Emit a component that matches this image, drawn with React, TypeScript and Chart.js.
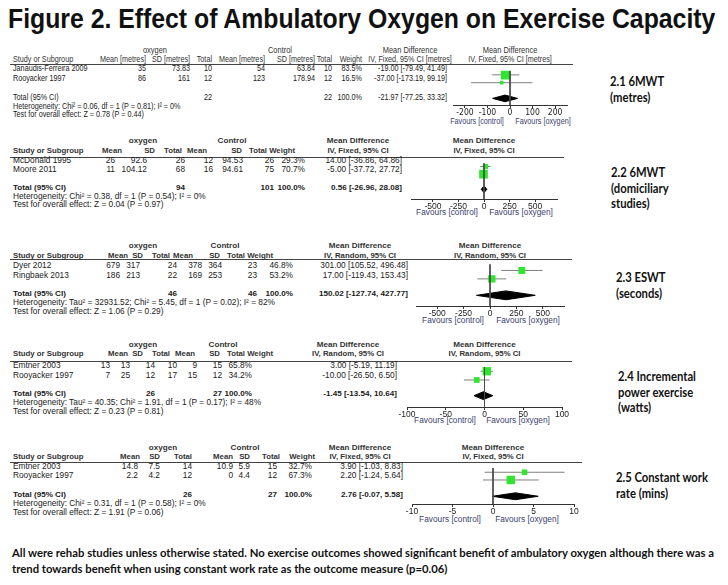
import React, { useEffect, useRef } from "react";
import { Chart, registerables } from "chart.js";
Chart.register(...registerables);

// ---------------- data ----------------
const titleText = "Figure 2. Effect of Ambulatory Oxygen on Exercise Capacity";
const outcomeLabels = [
  ["2.1 6MWT", "(metres)"],
  ["2.2 6MWT", "(domiciliary", "studies)"],
  ["2.3 ESWT", "(seconds)"],
  ["2.4 Incremental", "power exercise", "(watts)"],
  ["2.5 Constant work", "rate (mins)"],
];
const studies = [
  ["Janaudis-Ferreira 2009", "Rooyacker 1997"],
  ["McDonald 1995", "Moore 2011"],
  ["Dyer 2012", "Ringbaek 2013"],
  ["Emtner 2003", "Rooyacker 1997"],
  ["Emtner 2003", "Rooyacker 1997"],
];
const oxygenMean = [["35", "86"], ["26", "11"], ["679", "186"], ["13", "7"], ["14.8", "2.2"]];
const oxygenSD = [["73.83", "161"], ["92.6", "104.12"], ["317", "213"], ["13", "25"], ["7.5", "4.2"]];
const oxygenTotal = [["10", "12"], ["26", "68"], ["24", "22"], ["14", "12"], ["14", "12"]];
const controlMean = [["54", "123"], ["12", "16"], ["378", "169"], ["10", "17"], ["10.9", "0"]];
const controlSD = [["63.84", "178.94"], ["94.53", "94.61"], ["364", "253"], ["9", "15"], ["5.9", "4.4"]];
const controlTotal = [["10", "12"], ["26", "75"], ["23", "23"], ["15", "12"], ["15", "12"]];
const weights = [[83.5, 16.5], [29.3, 70.7], [46.8, 53.2], [65.8, 34.2], [32.7, 67.3]];
const meanDiff = [[-19, -37], [14, -5], [301, 17], [3, -10], [3.9, 2.2]];
const ciLower = [[-79.49, -173.19], [-36.86, -37.72], [105.52, -119.43], [-5.19, -26.5], [-1.03, -1.24]];
const ciUpper = [[41.49, 99.19], [64.86, 27.72], [496.48, 153.43], [11.19, 6.5], [8.83, 5.64]];
const pooledMD = [-21.97, 0.56, 150.02, -1.45, 2.76];
const pooledLower = [-77.25, -26.96, -127.74, -13.54, -0.07];
const pooledUpper = [33.32, 28.08, 427.77, 10.64, 5.58];
const totalOxygen = ["22", "94", "46", "26", "26"];
const totalControl = ["22", "101", "46", "27", "27"];
const heterogeneity = [
  "Heterogeneity: Chi² = 0.06, df = 1 (P = 0.81); I² = 0%",
  "Heterogeneity: Chi² = 0.38, df = 1 (P = 0.54); I² = 0%",
  "Heterogeneity: Tau² = 32931.52; Chi² = 5.45, df = 1 (P = 0.02); I² = 82%",
  "Heterogeneity: Tau² = 40.35; Chi² = 1.91, df = 1 (P = 0.17); I² = 48%",
  "Heterogeneity: Chi² = 0.31, df = 1 (P = 0.58); I² = 0%",
];
const overallEffect = [
  "Test for overall effect: Z = 0.78 (P = 0.44)",
  "Test for overall effect: Z = 0.04 (P = 0.97)",
  "Test for overall effect: Z = 1.06 (P = 0.29)",
  "Test for overall effect: Z = 0.23 (P = 0.81)",
  "Test for overall effect: Z = 1.91 (P = 0.06)",
];
const methodLabels = [
  "IV, Fixed, 95% CI [metres]",
  "IV, Fixed, 95% CI",
  "IV, Random, 95% CI",
  "IV, Random, 95% CI",
  "IV, Fixed, 95% CI",
];
const unitHeaders = ["Mean [metres]", "SD [metres]", "Total", "Mean [metres]", "SD [metres]", "Total", "Weight"];
const plainHeaders = ["Mean", "SD", "Total", "Mean", "SD", "Total", "Weight"];
const axisTicks = [
  [-200, -100, 0, 100, 200],
  [-500, -250, 0, 250, 500],
  [-500, -250, 0, 250, 500],
  [-100, -50, 0, 50, 100],
  [-10, -5, 0, 5, 10],
];
const axisRange = [253, 715, 700, 100, 10];
const captionLines = [
  "All were rehab studies unless otherwise stated.  No exercise outcomes showed significant benefit of  ambulatory oxygen although there was a",
  "trend towards benefit when using constant work rate as the outcome measure (p=0.06)",
];

// ---------------- layout (pixel positions, styles) ----------------
type PL = {
  hdr1: number; hdr2: number; line: number; lineEnd: number; rows: number[]; total: number; het: number; test: number;
  cols: number[]; mdRight: number; hcols: number[]; hMdC: number; oxyC: number; ctlC: number;
  axisL: number; axisR: number; axisY: number; favY: number; favL: number; favR: number;
  labelX: number; labelY: number; dh: number;
};
const layouts: PL[] = [
  { hdr1: 50, hdr2: 59, line: 63.5, lineEnd: 573, rows: [68.5, 78], total: 97, het: 106, test: 114.5,
    cols: [146, 190, 212, 265, 315, 332, 362], mdRight: 447, hcols: [146, 190, 212, 265, 315, 332, 362], hMdC: 410,
    oxyC: 155, ctlC: 280, axisL: 453, axisR: 567, axisY: 105, favY: 121, favL: 477, favR: 543, labelX: 610, labelY: 82, dh: 4 },
  { hdr1: 141, hdr2: 151, line: 156.5, lineEnd: 564, rows: [160.5, 169.5], total: 187.5, het: 196.5, test: 205,
    cols: [115, 147, 185, 213, 243, 274, 305], mdRight: 402, hcols: [122, 155, 182, 207, 242, 267, 295], hMdC: 358,
    oxyC: 143, ctlC: 232, axisL: 411, axisR: 557, axisY: 199, favY: 213, favL: 447, favR: 521, labelX: 611, labelY: 173, dh: 4 },
  { hdr1: 246, hdr2: 255.5, line: 259, lineEnd: 572, rows: [266, 275.5], total: 294, het: 303, test: 311.5,
    cols: [120, 140, 177, 202, 222, 257, 293], mdRight: 408, hcols: [128, 143, 170, 193, 220, 245, 273], hMdC: 360,
    oxyC: 143, ctlC: 225, axisL: 416, axisR: 564, axisY: 306, favY: 321, favL: 453, favR: 528, labelX: 616, labelY: 278, dh: 5 },
  { hdr1: 345, hdr2: 354, line: 361, lineEnd: 572, rows: [366, 376], total: 394, het: 403, test: 412,
    cols: [110, 130, 155, 177, 197, 222, 252], mdRight: 397, hcols: [128, 143, 170, 195, 220, 245, 273], hMdC: 348,
    oxyC: 143, ctlC: 223, axisL: 407, axisR: 562, axisY: 407, favY: 421, favL: 445, favR: 518, labelX: 618, labelY: 377, dh: 4.5 },
  { hdr1: 448, hdr2: 457, line: 462, lineEnd: 582, rows: [467, 476], total: 495, het: 504, test: 513,
    cols: [138, 160, 192, 233, 250, 277, 312], mdRight: 403, hcols: [140, 160, 192, 233, 250, 280, 315], hMdC: 360,
    oxyC: 163, ctlC: 245, axisL: 412, axisR: 574, axisY: 504, favY: 520, favL: 450, favR: 527, labelX: 616, labelY: 478, dh: 4 },
];

const SANS = '"Liberation Sans", Arial, sans-serif';
const NARROW_CANVAS = '"Liberation Sans Narrow", "DejaVu Sans Condensed", "Liberation Sans", sans-serif';
const CAL = 'Lato, "Open Sans", sans-serif';
const GREEN = "#2ee62e";
const TEXT = "#1a1a1a";
const FAV = "#3b4270";
const PAD = 20;
const AXIS_H = 14;

type TxtProps = { x: number; y: number; text: string; align?: "left" | "right" | "center"; size?: number; bold?: boolean; family?: string; color?: string; sx?: number; lh?: number };
function Txt({ x, y, text, align = "left", size = 8.4, bold = false, family = SANS, color = TEXT, sx = 1, lh }: TxtProps) {
  const h = lh ?? size * 0.95;
  const st: React.CSSProperties = {
    position: "absolute", left: x, top: y - h / 2, height: h, lineHeight: h + "px", fontSize: size,
    fontFamily: family, fontWeight: bold ? 700 : 400, color, whiteSpace: "nowrap",
  };
  const parts: string[] = [];
  if (align === "right") { parts.push("translateX(-100%)"); st.transformOrigin = "right center"; }
  else if (align === "center") { parts.push("translateX(-50%)"); st.transformOrigin = "center center"; }
  else st.transformOrigin = "left center";
  if (sx !== 1) parts.push(`scaleX(${sx})`);
  if (parts.length) st.transform = parts.join(" ");
  return <div style={st}>{text}</div>;
}

function Forest({ p }: { p: number }) {
  const ref = useRef<HTMLCanvasElement>(null);
  const L = layouts[p];
  const top = L.line;
  const axisOff = L.axisY - top;
  const width = L.axisR - L.axisL + 2 * PAD;
  const height = axisOff + AXIS_H;
  useEffect(() => {
    const R = axisRange[p];
    const datasets: any[] = [];
    datasets.push({ type: "line", data: [{ x: 0, y: 0 }, { x: 0, y: axisOff }], borderColor: "#4a4a4a", borderWidth: 1, pointRadius: 0, fill: false });
    datasets.push({
      type: "scatter",
      data: meanDiff[p].map((m, i) => ({ x: m, y: L.rows[i] - top })),
      pointStyle: "rect",
      pointRadius: weights[p].map((w) => (1.15 * Math.sqrt(w) - 1) / Math.SQRT2),
      backgroundColor: GREEN, borderWidth: 0,
    });
    const yd = L.total - top;
    datasets.push({
      type: "line",
      data: [
        { x: pooledLower[p], y: yd }, { x: pooledMD[p], y: yd - L.dh }, { x: pooledUpper[p], y: yd },
        { x: pooledMD[p], y: yd + L.dh }, { x: pooledLower[p], y: yd },
      ],
      borderColor: "#000", backgroundColor: "#000", borderWidth: 1, pointRadius: 0, fill: "shape", tension: 0,
    });
    studies[p].forEach((_, i) => {
      const y = L.rows[i] - top;
      datasets.push({ type: "line", data: [{ x: ciLower[p][i], y }, { x: ciUpper[p][i], y }], borderColor: "#808080", borderWidth: 1, pointRadius: 0, fill: false });
    });
    const chart = new Chart(ref.current as HTMLCanvasElement, {
      type: "scatter",
      data: { datasets },
      options: {
        animation: false, responsive: false, maintainAspectRatio: false, events: [],
        layout: { padding: { left: PAD, right: PAD, top: 0, bottom: 0 } },
        plugins: { legend: { display: false }, tooltip: { enabled: false } },
        scales: {
          x: {
            type: "linear", min: -R, max: R,
            afterBuildTicks: (s: any) => { s.ticks = axisTicks[p].map((v) => ({ value: v })); },
            afterFit: (s: any) => { s.height = AXIS_H; },
            grid: { drawOnChartArea: false, drawTicks: true, tickLength: 3, color: "#333", lineWidth: 1 },
            border: { display: true, color: "#333", width: 1 },
            ticks: { color: "#222", font: { family: p === 0 ? NARROW_CANVAS : SANS, size: 8.5 }, padding: 0, maxRotation: 0, autoSkip: false, callback: (v: any) => String(v) },
          },
          y: { type: "linear", min: 0, max: axisOff, reverse: true, display: false },
        },
      } as any,
    });
    return () => chart.destroy();
  }, [p]);
  return <canvas ref={ref} width={width} height={height} style={{ position: "absolute", left: L.axisL - PAD, top, width, height }} />;
}

function Panel({ p }: { p: number }) {
  const L = layouts[p];
  const narrow = p === 0;
  const size = narrow ? 8.8 : 8.3;
  const hsize = narrow ? 8.8 : 7.8;
  const tsize = narrow ? 8.8 : 8.1;
  const sx = narrow ? 0.82 : 1;
  const hb = !narrow;
  const fc = (L.axisL + L.axisR) / 2;
  const heads = narrow ? unitHeaders : plainHeaders;
  const fmt = (m: number, lo: number, hi: number) => `${m.toFixed(2)} [${lo.toFixed(2)}, ${hi.toFixed(2)}]`;
  const items: JSX.Element[] = [];
  let k = 0;
  const add = (props: TxtProps) => items.push(<Txt key={k++} size={size} sx={sx} {...props} />);
  add({ x: L.oxyC, y: L.hdr1, text: "oxygen", align: "center", bold: hb, color: "#333", size: hsize + 0.3 });
  add({ x: L.ctlC, y: L.hdr1, text: "Control", align: "center", bold: hb, color: "#333", size: hsize + 0.3 });
  add({ x: L.hMdC, y: L.hdr1, text: "Mean Difference", align: "center", bold: hb, color: "#333", size: hsize + 0.3 });
  add({ x: fc, y: L.hdr1, text: "Mean Difference", align: "center", bold: hb, color: "#333", size: hsize + 0.3 });
  add({ x: 13, y: L.hdr2, text: "Study or Subgroup", bold: hb, color: "#333", size: hsize });
  heads.forEach((h, i) => add({ x: L.hcols[i], y: L.hdr2, text: h, align: "right", bold: hb, color: "#333", size: hsize }));
  add({ x: L.hMdC, y: L.hdr2, text: methodLabels[p], align: "center", bold: hb, color: "#333", size: hsize });
  add({ x: fc, y: L.hdr2, text: methodLabels[p], align: "center", bold: hb, color: "#333", size: hsize });
  studies[p].forEach((s, i) => {
    const y = L.rows[i];
    add({ x: 13, y, text: s });
    const vals = [oxygenMean[p][i], oxygenSD[p][i], oxygenTotal[p][i], controlMean[p][i], controlSD[p][i], controlTotal[p][i], weights[p][i].toFixed(1) + "%"];
    vals.forEach((v, j) => add({ x: L.cols[j], y, text: v, align: "right" }));
    add({ x: L.mdRight, y, text: fmt(meanDiff[p][i], ciLower[p][i], ciUpper[p][i]), align: "right" });
  });
  add({ x: 13, y: L.total, text: "Total (95% CI)", bold: hb, size: tsize });
  add({ x: L.cols[2], y: L.total, text: totalOxygen[p], align: "right", bold: hb, size: tsize });
  add({ x: L.cols[5], y: L.total, text: totalControl[p], align: "right", bold: hb, size: tsize });
  add({ x: L.cols[6], y: L.total, text: "100.0%", align: "right", bold: hb, size: tsize });
  add({ x: L.mdRight, y: L.total, text: fmt(pooledMD[p], pooledLower[p], pooledUpper[p]), align: "right", bold: hb, size: tsize });
  add({ x: 13, y: L.het, text: heterogeneity[p] });
  add({ x: 13, y: L.test, text: overallEffect[p] });
  add({ x: L.favL, y: L.favY, text: "Favours [control]", align: "center", color: FAV });
  add({ x: L.favR, y: L.favY, text: "Favours [oxygen]", align: "center", color: FAV });
  outcomeLabels[p].forEach((t, i) =>
    items.push(<Txt key={k++} x={L.labelX} y={L.labelY + i * 15.5} text={t} size={12.5} sx={0.9} lh={14} bold family={CAL} color="#111" />)
  );
  return (
    <>
      <div style={{ position: "absolute", left: 10, top: L.line, width: L.lineEnd - 10, height: 0, borderTop: "1px solid #444" }} />
      {items}
      <Forest p={p} />
    </>
  );
}

export default function App() {
  return (
    <div style={{ position: "absolute", left: 0, top: 0, width: 728, height: 585, background: "#fff", overflow: "hidden" }}>
      <Txt x={8} y={18} text={titleText} size={28.5} lh={30} bold sx={0.87} color="#111" />
      {layouts.map((_, p) => <Panel key={p} p={p} />)}
      {captionLines.map((c, i) => (
        <Txt key={i} x={12} y={552 + i * 16} text={c} size={11.3} lh={13} bold family={CAL} color="#111" />
      ))}
    </div>
  );
}
